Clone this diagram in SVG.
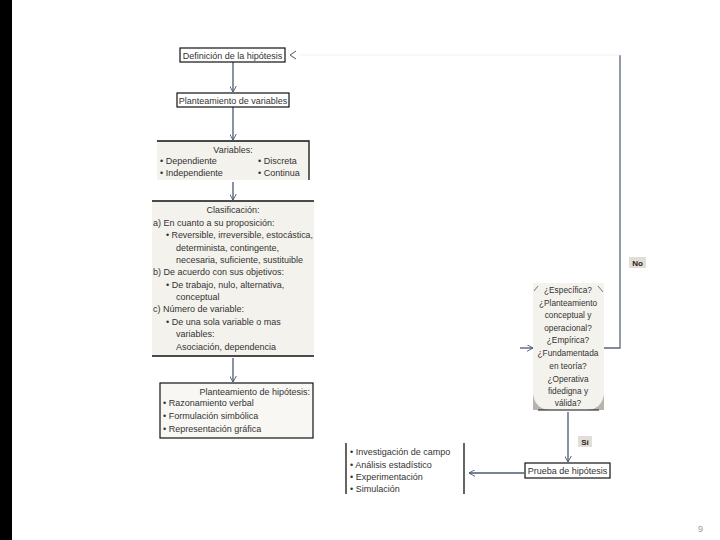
<svg xmlns="http://www.w3.org/2000/svg" width="720" height="540" viewBox="0 0 720 540">
<defs>
<marker id="ah" viewBox="0 0 10 10" refX="9" refY="5" markerWidth="7" markerHeight="7" orient="auto" markerUnits="userSpaceOnUse">
<path d="M0,0 L9,5 L0,10" fill="none" stroke="#4a5873" stroke-width="1.3"/>
</marker>
<style>
text{font-family:"Liberation Sans",Arial,sans-serif;font-size:9px;fill:#333}
.c{text-anchor:middle}
.r{text-anchor:end}
.q{font-size:8.3px}
.box{fill:#fff;stroke:#111;stroke-width:1.2}
.bg{fill:#f4f2ec}
.ln{stroke:#111;stroke-width:1.3;fill:none}
.cn{stroke:#4a5873;stroke-width:1.3;fill:none}
.lab{font-weight:bold;font-size:8px;fill:#222}
</style>
</defs>
<rect width="720" height="540" fill="#fff"/>
<rect x="0" y="0" width="12" height="540" fill="#000"/>

<g id="connectors">
<line class="cn" x1="233" y1="62" x2="233" y2="92" marker-end="url(#ah)"/>
<line class="cn" x1="233" y1="107" x2="233" y2="140" marker-end="url(#ah)"/>
<line class="cn" x1="233" y1="182" x2="233" y2="200" marker-end="url(#ah)"/>
<line class="cn" x1="233" y1="358" x2="233" y2="382" marker-end="url(#ah)"/>
<line class="cn" x1="520" y1="348" x2="533" y2="348" marker-end="url(#ah)"/>
<polyline fill="none" stroke="#5a6680" stroke-width="1.3" points="604,348 620,348 620,55"/>
<line x1="620" y1="55" x2="300" y2="55" stroke="#eef1f5" stroke-width="1"/>
<path d="M296,51 L290,55 L296,59" fill="none" stroke="#555" stroke-width="1"/>
<line class="cn" x1="568" y1="412" x2="568" y2="462" marker-end="url(#ah)"/>
<line class="cn" x1="524" y1="473" x2="469" y2="473" marker-end="url(#ah)"/>
<rect x="629" y="257" width="17" height="11" fill="#e2ddd6"/>
<text class="lab" x="637.5" y="266" text-anchor="middle">No</text>
<rect x="578" y="436" width="14" height="11" fill="#e2ddd6"/>
<text class="lab" x="585" y="445" text-anchor="middle">Sí</text>
</g>

<g id="n1">
<rect class="box" x="180" y="48" width="105" height="14"/>
<text class="c" x="232.5" y="58.5">Definición de la hipótesis</text>
</g>

<g id="n2">
<rect class="box" x="177" y="93" width="112" height="14"/>
<text class="c" x="233" y="103.5">Planteamiento de variables</text>
</g>

<g id="n3">
<rect class="bg" x="157" y="141" width="152" height="39"/>
<polyline class="ln" points="157,141 309,141 309,180"/>
<text class="c" x="233" y="153">Variables:</text>
<text x="160" y="164">• Dependiente</text>
<text x="258" y="164">• Discreta</text>
<text x="160" y="176">• Independiente</text>
<text x="258" y="176">• Continua</text>
</g>

<g id="n4">
<rect class="bg" x="152" y="201" width="162" height="155"/>
<line class="ln" x1="152" y1="201" x2="314" y2="201"/>
<line class="ln" x1="152" y1="356" x2="314" y2="356"/>
<text class="c" x="233" y="213">Clasificación:</text>
<text x="153" y="226">a) En cuanto a su proposición:</text>
<text x="166" y="238" textLength="147" lengthAdjust="spacingAndGlyphs">• Reversible, irreversible, estocástica,</text>
<text x="176" y="251">determinista, contingente,</text>
<text x="176" y="263">necesaria, suficiente, sustituible</text>
<text x="153" y="275">b) De acuerdo con sus objetivos:</text>
<text x="166" y="288">• De trabajo, nulo, alternativa,</text>
<text x="176" y="300">conceptual</text>
<text x="153" y="312">c) Número de variable:</text>
<text x="166" y="325">• De una sola variable o mas</text>
<text x="176" y="337">variables:</text>
<text x="176" y="350">Asociación, dependencia</text>
</g>

<g id="n5">
<rect x="160" y="383" width="153" height="55" fill="#f8f7f3" stroke="#111" stroke-width="1.2"/>
<text class="r" x="310" y="395">Planteamiento de hipótesis:</text>
<text x="163" y="406">• Razonamiento verbal</text>
<text x="163" y="419">• Formulación simbólica</text>
<text x="163" y="432">• Representación gráfica</text>
</g>

<g id="n6">
<rect class="bg" x="533" y="283" width="71" height="127"/>
<path d="M533,394 Q535,409 550,410 L533,410 Z" fill="#b8b4ad"/>
<path d="M604,394 Q602,409 587,410 L604,410 Z" fill="#b8b4ad"/>
<line x1="538" y1="410" x2="599" y2="410" stroke="#111" stroke-width="1.2"/>
<line x1="534" y1="291" x2="538" y2="286" stroke="#777" stroke-width="1"/>
<line x1="598" y1="286" x2="603" y2="292" stroke="#777" stroke-width="1"/>
<text class="c q" x="568" y="293">¿Específica?</text>
<text class="c q" x="568" y="306">¿Planteamiento</text>
<text class="c q" x="568" y="318">conceptual y</text>
<text class="c q" x="568" y="331">operacional?</text>
<text class="c q" x="568" y="343">¿Empírica?</text>
<text class="c q" x="568" y="356">¿Fundamentada</text>
<text class="c q" x="568" y="369">en teoría?</text>
<text class="c q" x="568" y="382">¿Operativa</text>
<text class="c q" x="568" y="394">fidedigna y</text>
<text class="c q" x="568" y="406">válida?</text>
</g>

<g id="n7">
<rect class="box" x="525" y="463" width="85" height="15"/>
<text class="c" x="567.5" y="474">Prueba de hipótesis</text>
</g>

<g id="n8">
<line class="ln" x1="346" y1="443" x2="346" y2="494"/>
<line class="ln" x1="464" y1="443" x2="464" y2="494"/>
<text x="350" y="455">• Investigación de campo</text>
<text x="350" y="468">• Análisis estadístico</text>
<text x="350" y="480">• Experimentación</text>
<text x="350" y="492">• Simulación</text>
</g>

<text x="698" y="532" style="fill:#999;font-size:9px">9</text>
</svg>
